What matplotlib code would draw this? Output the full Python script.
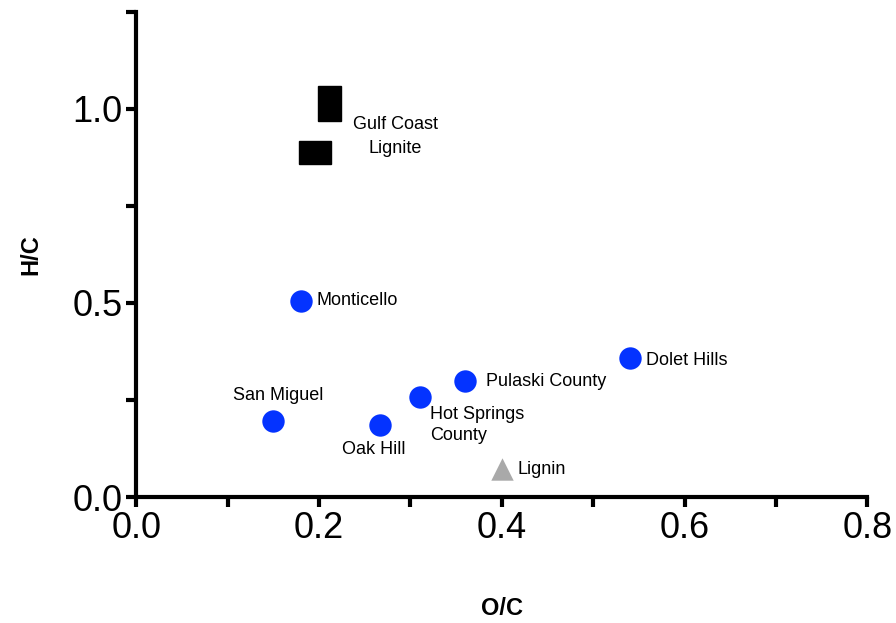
import matplotlib
matplotlib.use('Agg')
import matplotlib.pyplot as plt
from matplotlib.patches import Rectangle
from matplotlib.ticker import MultipleLocator

plt.rcParams['font.family'] = ['Liberation Sans', 'DejaVu Sans']

# coal samples (O/C, H/C)
coal_names = ['San Miguel', 'Monticello', 'Oak Hill', 'Hot Springs\nCounty', 'Pulaski County', 'Dolet Hills']
coal_oc = [0.150, 0.180, 0.267, 0.311, 0.360, 0.540]
coal_hc = [0.195, 0.506, 0.185, 0.257, 0.298, 0.357]

# gulf coast lignite ranges: centre and span
gulf_oc = [0.2115, 0.1955]
gulf_hc = [1.013, 0.8875]
gulf_oc_span = [0.025, 0.035]
gulf_hc_span = [0.089, 0.058]

lignin_oc = [0.400]
lignin_hc = [0.072]

# label offsets in pixels and alignment for each coal sample
label_off = [(5, 26), (16, 0), (-6, -24), (10, -28), (21, 0), (16, -2)]
label_ha = ['center', 'left', 'center', 'left', 'left', 'left']

fig = plt.figure(figsize=(8.96, 6.23), dpi=100)
ax = fig.add_axes([0.152, 0.2022, 0.816, 0.779])

ax.scatter(coal_oc, coal_hc, s=260, color='#0433FF', zorder=3, linewidths=0)
ax.scatter(lignin_oc, lignin_hc, s=260, marker='^', color='#A9A9A9', zorder=3, linewidths=0)
for x, y, w, h in zip(gulf_oc, gulf_hc, gulf_oc_span, gulf_hc_span):
    ax.add_patch(Rectangle((x - w / 2, y - h / 2), w, h, color='black', zorder=3))

for name, x, y, off, ha in zip(coal_names, coal_oc, coal_hc, label_off, label_ha):
    ax.annotate(name, (x, y), xytext=off, textcoords='offset pixels',
                ha=ha, va='center', fontsize=13, linespacing=1.3)
ax.annotate('Lignin', (lignin_oc[0], lignin_hc[0]), xytext=(16, 0),
            textcoords='offset pixels', ha='left', va='center', fontsize=13)
ax.annotate('Gulf Coast\nLignite', (gulf_oc[0], gulf_hc[0]), xytext=(66, -33),
            textcoords='offset pixels', ha='center', va='center', fontsize=13, linespacing=1.5)

ax.set_xlim(0, 0.8)
ax.set_ylim(0, 1.25)
ax.xaxis.set_major_locator(MultipleLocator(0.2))
ax.xaxis.set_minor_locator(MultipleLocator(0.1))
ax.yaxis.set_major_locator(MultipleLocator(0.5))
ax.yaxis.set_minor_locator(MultipleLocator(0.25))
ax.xaxis.set_major_formatter(lambda v, p: f'{v:.1f}')
ax.yaxis.set_major_formatter(lambda v, p: f'{v:.1f}')

for s in ['top', 'right']:
    ax.spines[s].set_visible(False)
for s in ['left', 'bottom']:
    ax.spines[s].set_linewidth(3)
ax.tick_params(which='both', width=3, length=7, direction='out')
ax.tick_params(which='major', labelsize=26, pad=3)

ax.set_xlabel('O/C', fontsize=17, fontweight='bold')
ax.set_ylabel('H/C', fontsize=17, fontweight='bold')
ax.xaxis.set_label_coords(0.5, -0.205)
ax.yaxis.set_label_coords(-0.128, 0.5)

fig.savefig('out.png', dpi=100)
